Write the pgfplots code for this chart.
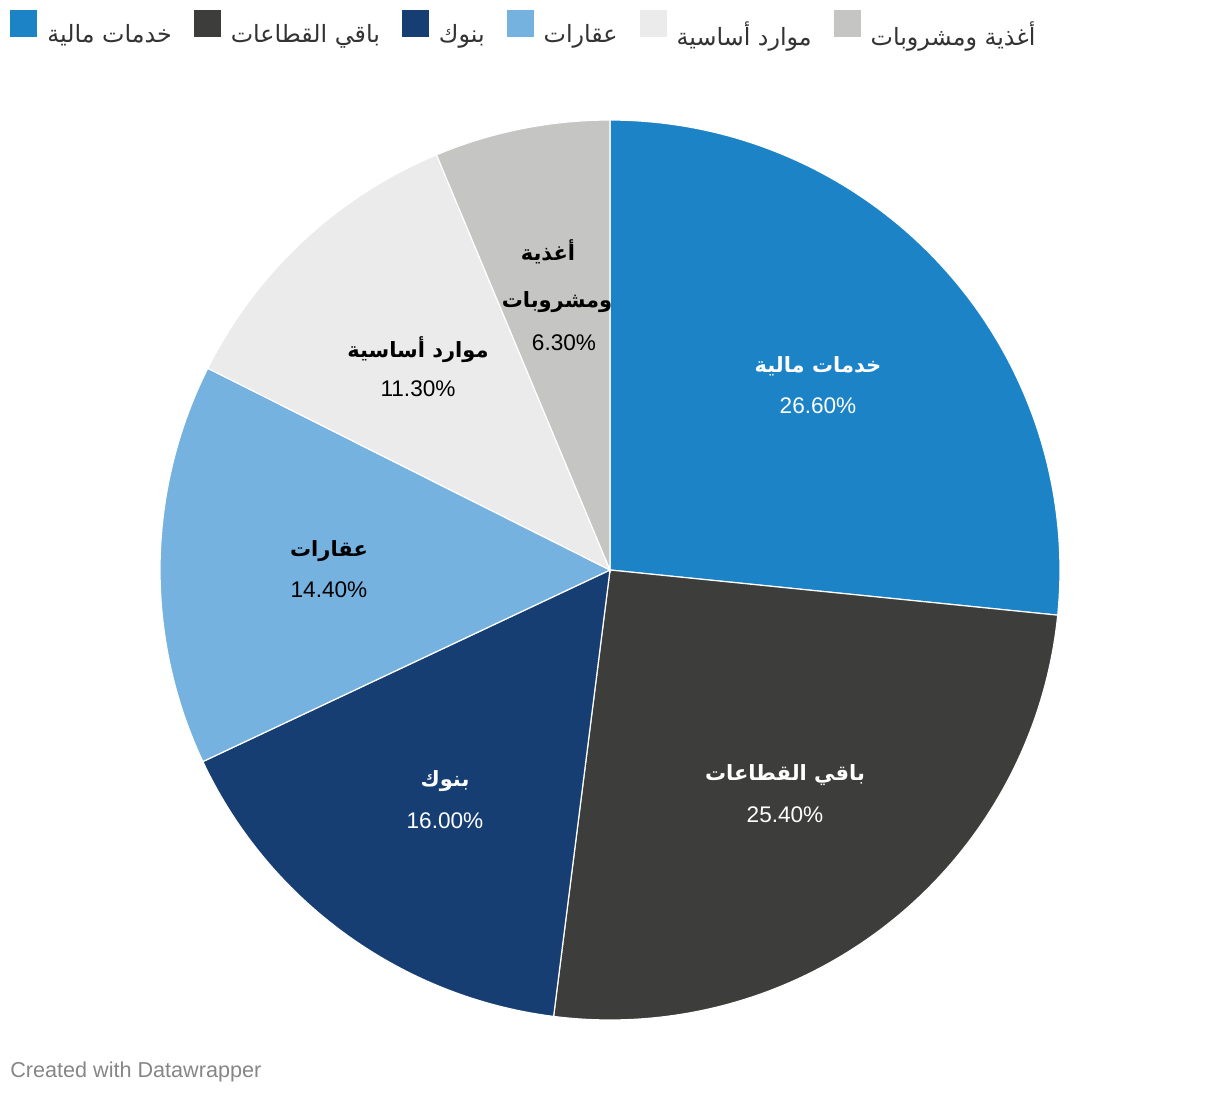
\documentclass[border=0pt]{standalone}
\usepackage{pgfplots}
\pgfplotsset{compat=1.18}
\usepackage{fontspec}
\setmainfont{Liberation Sans}
\newfontfamily\arabicfont[Script=Arabic]{DejaVu Sans}
\TeXXeTstate=1
\newcommand{\ar}[1]{{\arabicfont\beginR #1\endR}}
\definecolor{cFin}{HTML}{1C83C7}
\definecolor{cRest}{HTML}{3D3D3B}
\definecolor{cBank}{HTML}{173E72}
\definecolor{cReal}{HTML}{75B2E0}
\definecolor{cRes}{HTML}{EBEBEB}
\definecolor{cFood}{HTML}{C5C5C3}
\definecolor{cTxt}{HTML}{333333}
\begin{document}
\begin{tikzpicture}
\begin{axis}[
  hide axis, scale only axis,
  width=610pt, height=548pt,
  xmin=0, xmax=1220, ymin=0, ymax=1096, y dir=reverse,
  clip=false,
  legend columns=-1,
  legend style={at={(0,1)}, anchor=north west, draw=none, fill=none,
    inner xsep=5pt, inner ysep=5pt,
    font=\fontsize{11.9pt}{13pt}\selectfont\color{cTxt},
    /tikz/every odd column/.append style={column sep=3pt},
    /tikz/every even column/.append style={column sep=9pt}},
  legend image code/.code={\fill[#1, draw=none] (0pt,-1pt) rectangle (13.5pt,12.5pt);},
]
\path (axis cs:0,0) rectangle (axis cs:1220,1096);
% slices: values in percent, clockwise from 12 o'clock
\addplot[fill=cFin, draw=white, line width=0.6pt, domain={90-3.6*26.6}:{90}, samples=90]
  ({610+450*cos(x)},{570-450*sin(x)}) -- (axis cs:610,570) -- cycle;
\addlegendentry{\ar{خدمات مالية}}
\addplot[fill=cRest, draw=white, line width=0.6pt, domain={90-3.6*(26.6+25.4)}:{90-3.6*26.6}, samples=90]
  ({610+450*cos(x)},{570-450*sin(x)}) -- (axis cs:610,570) -- cycle;
\addlegendentry{\ar{باقي القطاعات}}
\addplot[fill=cBank, draw=white, line width=0.6pt, domain={90-3.6*(26.6+25.4+16.0)}:{90-3.6*(26.6+25.4)}, samples=60]
  ({610+450*cos(x)},{570-450*sin(x)}) -- (axis cs:610,570) -- cycle;
\addlegendentry{\ar{بنوك}}
\addplot[fill=cReal, draw=white, line width=0.6pt, domain={90-3.6*(26.6+25.4+16.0+14.4)}:{90-3.6*(26.6+25.4+16.0)}, samples=60]
  ({610+450*cos(x)},{570-450*sin(x)}) -- (axis cs:610,570) -- cycle;
\addlegendentry{\ar{عقارات}}
\addplot[fill=cRes, draw=white, line width=0.6pt, domain={90-3.6*(26.6+25.4+16.0+14.4+11.3)}:{90-3.6*(26.6+25.4+16.0+14.4)}, samples=50]
  ({610+450*cos(x)},{570-450*sin(x)}) -- (axis cs:610,570) -- cycle;
\addlegendentry{\ar{موارد أساسية}}
\addplot[fill=cFood, draw=white, line width=0.6pt, domain={90-3.6*(26.6+25.4+16.0+14.4+11.3+6.3)}:{90-3.6*(26.6+25.4+16.0+14.4+11.3)}, samples=40]
  ({610+450*cos(x)},{570-450*sin(x)}) -- (axis cs:610,570) -- cycle;
\addlegendentry{\ar{أغذية ومشروبات}}
% labels
\begin{scope}[every node/.style={font=\fontsize{11.3pt}{13pt}\selectfont, inner sep=0pt}]
\node[white] at (axis cs:818,366) {\fontsize{10.5pt}{12pt}\selectfont\bfseries\ar{خدمات مالية}};
\node[white] at (axis cs:818,406) {26.60\%};
\node[white] at (axis cs:785,775) {\fontsize{10.5pt}{12pt}\selectfont\bfseries\ar{باقي القطاعات}};
\node[white] at (axis cs:785,815) {25.40\%};
\node[white] at (axis cs:445,781) {\fontsize{10.5pt}{12pt}\selectfont\bfseries\ar{بنوك}};
\node[white] at (axis cs:445,821) {16.00\%};
\node[black] at (axis cs:329,551) {\fontsize{10.5pt}{12pt}\selectfont\bfseries\ar{عقارات}};
\node[black] at (axis cs:329,590) {14.40\%};
\node[black] at (axis cs:418,350) {\fontsize{10.5pt}{12pt}\selectfont\bfseries\ar{موارد أساسية}};
\node[black] at (axis cs:418,389) {11.30\%};
\node[black] at (axis cs:548,252) {\fontsize{10.5pt}{12pt}\selectfont\bfseries\ar{أغذية}};
\node[black] at (axis cs:557,302) {\fontsize{10.5pt}{12pt}\selectfont\bfseries\ar{ومشروبات}};
\node[black] at (axis cs:564,343) {6.30\%};
\end{scope}
\node[anchor=west, inner sep=0pt, text=gray!95!white, font=\fontsize{10.8pt}{12pt}\selectfont] at (axis cs:10,1072) {Created with Datawrapper};
\end{axis}
\end{tikzpicture}
\end{document}
